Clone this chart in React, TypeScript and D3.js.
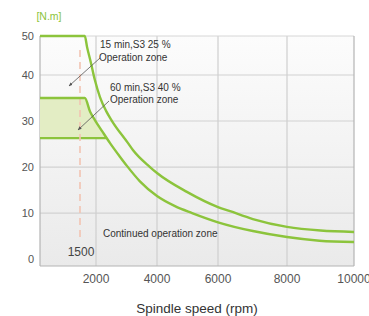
import React from "react";
import * as d3 from "d3";

const width = 369;
const height = 316;

// S3 25 % (15 min) curve
const s3_25Speed = [0, 1600, 1680, 1820, 1960, 2130, 2330, 2525, 3050, 3210, 3770, 4000, 4980, 6000, 6350, 7010, 8000, 9000, 10000];
const s3_25Torque = [50, 50, 47.2, 43.1, 38.9, 35.2, 32.2, 30, 25.2, 23.7, 20, 18.7, 14.6, 11.3, 10.4, 8.7, 7.0, 6.2, 5.9];

// S3 40 % (60 min) curve
const s3_40Speed = [0, 1600, 1790, 1960, 2200, 2460, 2790, 3020, 3440, 4000, 4590, 5150, 6000, 7010, 8000, 8970, 10000];
const s3_40Torque = [35, 35, 32, 30.2, 27.8, 25.2, 22.2, 20.2, 16.9, 13.7, 11.5, 10, 8, 6.1, 4.8, 4.0, 3.7];

// shaded 60 min zone (under the S3 40 % curve)
const shadeSpeed = [0, 1600, 1790, 1960, 2200, 2350];
const shadeTorque = [35, 35, 32, 30.2, 27.8, 26.3];
const shadeBase = 26.3;

const xTicks = [2000, 4000, 6000, 8000, 10000];
const yTicks = [0, 10, 20, 30, 40, 50];
const baseSpeed = 1500;

const green = "#8cc43c";

const x = d3
  .scaleLinear()
  .domain([0, 2000, 4000, 6000, 8000, 10000])
  .range([40, 96, 157, 218, 287, 354]);

const y = d3.scaleLinear().domain([-1.5, 40, 50]).range([266, 75, 36]);

const zip = (a: number[], b: number[]) => a.map((v, i) => [v, b[i]] as [number, number]);

const line = d3
  .line<[number, number]>()
  .x((d) => x(d[0]))
  .y((d) => y(d[1]))
  .curve(d3.curveMonotoneX);

const area = d3
  .area<[number, number]>()
  .x((d) => x(d[0]))
  .y0(y(shadeBase))
  .y1((d) => y(d[1]))
  .curve(d3.curveMonotoneX);

export default function App() {
  const x0 = x(0);
  const x1 = x(10000);
  const yTop = y(50);
  const yBot = y(-1.5);
  const txt = { fontFamily: "Liberation Sans, Arial, sans-serif" };

  return (
    <svg width={width} height={height} style={{ position: "absolute", left: 0, top: 0 }}>
      <defs>
        <linearGradient id="bg" x1="0" y1="0" x2="0" y2="1">
          <stop offset="0" stopColor="#fcfcfc" />
          <stop offset="1" stopColor="#eaeaea" />
        </linearGradient>
        <marker id="arr" viewBox="0 0 10 10" refX="9" refY="5" markerWidth="5" markerHeight="5" orient="auto">
          <path d="M0,1 L10,5 L0,9 z" fill="#555" />
        </marker>
      </defs>

      <rect x={x0} y={yTop} width={x1 - x0} height={yBot - yTop} fill="url(#bg)" />

      {/* grid */}
      {[10, 20, 30, 40].map((t) => (
        <line key={"gy" + t} x1={x0} x2={x1} y1={y(t)} y2={y(t)} stroke="#d2d2d2" strokeWidth={1.2} />
      ))}
      {[2000, 4000, 6000, 8000].map((t) => (
        <line key={"gx" + t} x1={x(t)} x2={x(t)} y1={yTop} y2={yBot} stroke="#cfcfcf" strokeWidth={1.2} />
      ))}
      <line x1={x0} x2={x1} y1={yTop} y2={yTop} stroke="#d6d6d6" strokeWidth={1} />
      <line x1={x1} x2={x1} y1={yTop} y2={yBot} stroke="#b4b4b4" strokeWidth={1.2} />
      <line x1={x0} x2={x0} y1={yTop} y2={yBot} stroke="#b4b4b4" strokeWidth={1.2} />
      <line x1={x0} x2={x1} y1={yBot} y2={yBot} stroke="#b4b4b4" strokeWidth={1.2} />

      {/* shaded zone */}
      <path d={area(zip(shadeSpeed, shadeTorque)) || ""} fill="#e3edc4" />
      <line x1={x0} x2={x(2330)} y1={y(shadeBase)} y2={y(shadeBase)} stroke={green} strokeWidth={2.2} />

      {/* 1500 rpm dashed */}
      <line x1={x(baseSpeed) - 2} x2={x(baseSpeed) - 2} y1={50} y2={237} stroke="#f2c4b2" strokeWidth={1.6} strokeDasharray="7,5" />

      <path d={line(zip(s3_25Speed, s3_25Torque)) || ""} fill="none" stroke={green} strokeWidth={2.4} />
      <path d={line(zip(s3_40Speed, s3_40Torque)) || ""} fill="none" stroke={green} strokeWidth={2.4} />

      {/* arrows */}
      <line x1={100} y1={58} x2={69} y2={86} stroke="#555" strokeWidth={0.8} markerEnd="url(#arr)" />
      <line x1={109} y1={101} x2={78} y2={130} stroke="#555" strokeWidth={0.8} markerEnd="url(#arr)" />

      {/* annotations */}
      <g style={txt} fontSize={10} fill="#333">
        <text x={100} y={48}>15 min,S3 25 %</text>
        <text x={99} y={61}>Operation zone</text>
        <text x={110} y={91}>60 min,S3 40 %</text>
        <text x={110} y={103}>Operation zone</text>
        <text x={103} y={237}>Continued operation zone</text>
      </g>
      <text x={81} y={256} textAnchor="middle" fontSize={12} fill="#444" style={txt}>
        {baseSpeed}
      </text>

      {/* axes labels */}
      <text x={49} y={20} textAnchor="middle" fontSize={10.5} fill={green} style={txt}>
        [N.m]
      </text>
      {yTicks.map((t) => (
        <text key={"yt" + t} x={34} y={t === 50 ? yTop : y(t)} dy="0.35em" textAnchor="end" fontSize={11} fill="#555" style={txt}>
          {t}
        </text>
      ))}
      {xTicks.map((t) => (
        <text key={"xt" + t} x={x(t)} y={283} textAnchor="middle" fontSize={12} fill="#555" style={txt}>
          {t}
        </text>
      ))}
      <text x={197} y={313} textAnchor="middle" fontSize={13.5} fill="#333" style={txt}>
        Spindle speed (rpm)
      </text>
    </svg>
  );
}
